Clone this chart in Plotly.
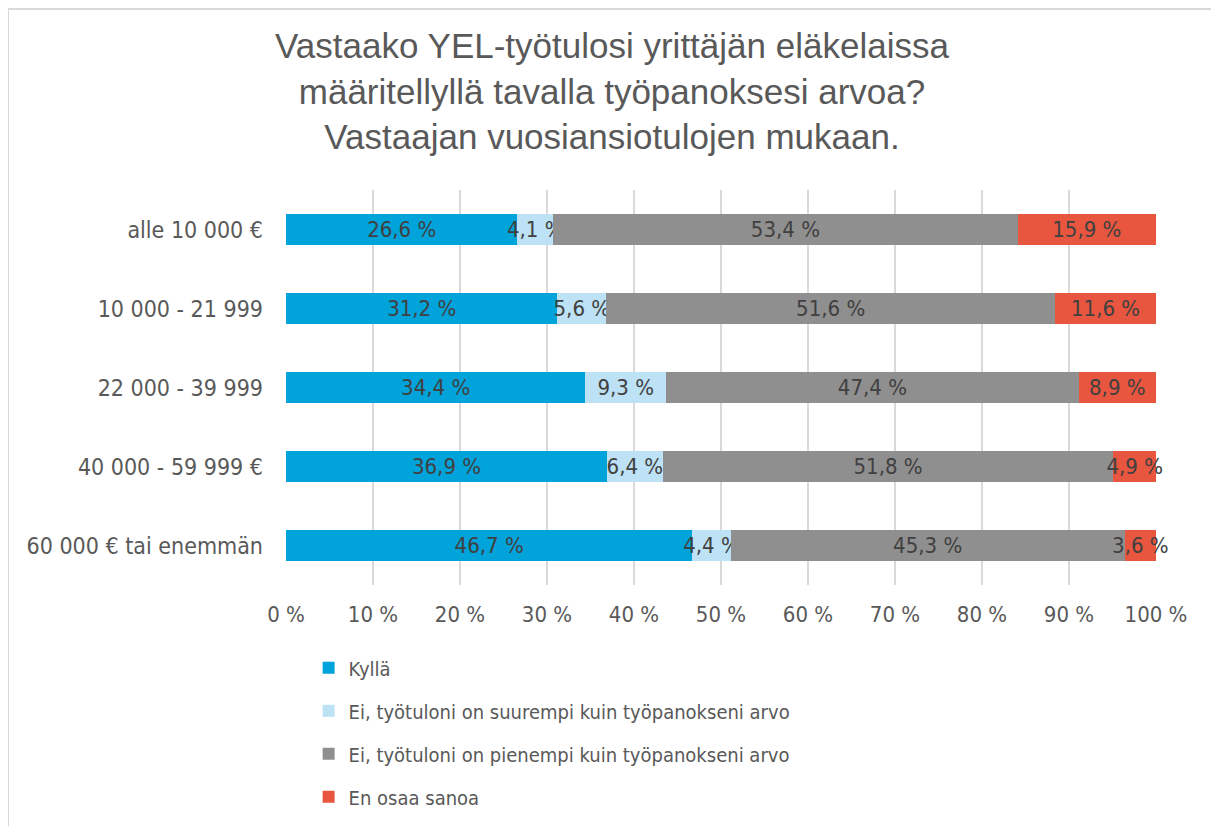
import plotly.graph_objects as go

categories = ["alle 10 000 €", "10 000 - 21 999", "22 000 - 39 999", "40 000 - 59 999 €", "60 000 € tai enemmän"]
series_names = ["Kyllä",
                "Ei, työtuloni on suurempi kuin työpanokseni arvo",
                "Ei, työtuloni on pienempi kuin työpanokseni arvo",
                "En osaa sanoa"]
kylla = [26.6, 31.2, 34.4, 36.9, 46.7]
suurempi = [4.1, 5.6, 9.3, 6.4, 4.4]
pienempi = [53.4, 51.6, 47.4, 51.8, 45.3]
en_osaa = [15.9, 11.6, 8.9, 4.9, 3.6]
x_ticks = [0, 10, 20, 30, 40, 50, 60, 70, 80, 90, 100]

colors = ["#00A3DA", "#BDE2F5", "#8F8F8F", "#E8563F"]
values = [kylla, suurempi, pienempi, en_osaa]

FONT = "DejaVu Sans Condensed, Lato, sans-serif"

L, T, PW, PH = 278, 182, 870, 395
W, H = 1219, 826

fig = go.Figure()
for i, (name, vals, col) in enumerate(zip(series_names, values, colors)):
    fig.add_trace(go.Bar(
        y=categories, x=vals, name=name, orientation="h",
        marker=dict(color=col, line=dict(width=0)),
        text=[f"{v:.1f} %".replace(".", ",") for v in vals],
        textposition="inside", insidetextanchor="middle",
        textangle=0, constraintext="none", cliponaxis=False,
        textfont=dict(family=FONT, size=22, color="#404040"),
        legendgroup=str(i), hoverinfo="skip",
    ))

fig.update_layout(
    width=W, height=H,
    barmode="stack", bargap=0.6,
    paper_bgcolor="white", plot_bgcolor="white",
    margin=dict(l=L, r=W - L - PW, t=T, b=H - T - PH),
    title=dict(
        text="Vastaako YEL-työtulosi yrittäjän eläkelaissa<br>määritellyllä tavalla työpanoksesi arvoa?<br>Vastaajan vuosiansiotulojen mukaan.",
        x=0.4955, xanchor="center", y=0.939, yanchor="top",
        font=dict(family="Liberation Sans, Arial, sans-serif", size=35, color="#595959"),
    ),
    xaxis=dict(
        range=[0, 100], tickvals=x_ticks, ticktext=[f"{t} %" for t in x_ticks],
        showgrid=True, gridcolor="#D9D9D9", gridwidth=2, zeroline=False,
        tickfont=dict(family=FONT, size=22, color="#595959"),
        ticks="", showline=False, fixedrange=True, ticklabelstandoff=14,
    ),
    yaxis=dict(
        autorange="reversed", tickfont=dict(family=FONT, size=23, color="#595959"),
        ticks="", showline=False, ticklabelstandoff=22, fixedrange=True,
    ),
    legend=dict(
        orientation="v", x=0.026, xanchor="left", y=-0.16, yanchor="top",
        traceorder="grouped", tracegroupgap=14,
        font=dict(family=FONT, size=20, color="#595959"),
        itemwidth=30,
    ),
    shapes=[dict(type="rect", xref="paper", yref="paper",
                 x0=(0 - L) / PW, x1=(1206 - L) / PW,
                 y0=(T + PH - 900) / PH, y1=(T + PH - 1) / PH,
                 line=dict(color="#D9D9D9", width=2), fillcolor="rgba(0,0,0,0)", layer="below")],
)

fig.write_html("out.html")
